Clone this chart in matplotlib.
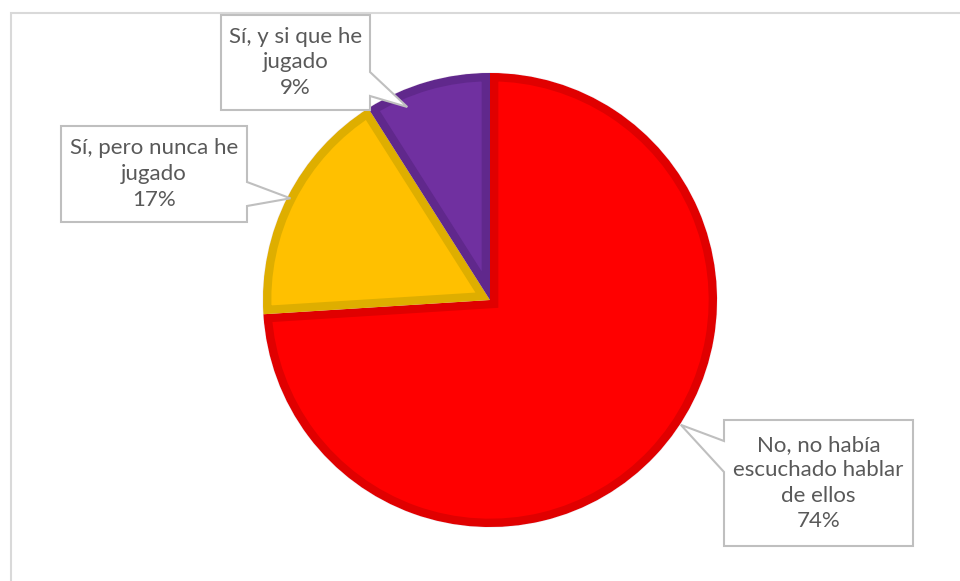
import numpy as np
import matplotlib.pyplot as plt
from matplotlib.patches import Wedge, PathPatch
from matplotlib.path import Path

# Respuestas a la encuesta
categorias = ["No, no había\nescuchado hablar\nde ellos",
              "Sí, pero nunca he\njugado",
              "Sí, y si que he\njugado"]
porcentajes = [74, 17, 9]
colores = ["#FF0000", "#FFC000", "#7030A0"]
bordes = ["#E00000", "#DEAE00", "#60288C"]

W, H = 960, 581
fig = plt.figure(figsize=(W / 100, H / 100), dpi=100)
ax = fig.add_axes([0, 0, 1, 1])
ax.set_xlim(0, W)
ax.set_ylim(0, H)
ax.set_aspect("equal")
ax.axis("off")

# marco del gráfico (se corta por la derecha y por abajo)
ax.plot([11, 11, W], [0, H - 13, H - 13], color="#D9D9D9", lw=1.5,
        solid_joinstyle="miter")

cx, cy, r = 490, 281, 227
wedges, _ = ax.pie(porcentajes, colors=colores, startangle=90,
                   counterclock=False, center=(cx, cy), radius=r,
                   frame=True, wedgeprops=dict(linewidth=0.8, edgecolor="#f0e8f0"))
ax.set_xlim(0, W)
ax.set_ylim(0, H)
ax.axis("off")

# borde interior más oscuro de cada porción
for w, c in zip(wedges, bordes):
    b = Wedge(w.center, w.r, w.theta1, w.theta2, facecolor="none",
              edgecolor=c, linewidth=12, joinstyle="miter")
    ax.add_patch(b)
    b.set_clip_path(w)


def globo(x0, y0, x1, y1, lado, t0, t1, punta):
    # rectángulo con cola triangular en el lado indicado (coordenadas en píxeles desde arriba)
    Y = lambda v: H - v
    if lado == "right":
        pts = [(x0, y0), (x1, y0), (x1, t0), punta, (x1, t1), (x1, y1), (x0, y1)]
    else:
        pts = [(x0, y0), (x1, y0), (x1, y1), (x0, y1), (x0, t1), punta, (x0, t0)]
    pts = [(px, Y(py)) for px, py in pts] + [(x0, Y(y0))]
    codes = [Path.MOVETO] + [Path.LINETO] * (len(pts) - 2) + [Path.CLOSEPOLY]
    ax.add_patch(PathPatch(Path(pts, codes), facecolor="white",
                           edgecolor="#BFBFBF", lw=1.5, zorder=5))


def punta(i, rad):
    ang = 90 - 360 * (sum(porcentajes[:i]) + porcentajes[i] / 2) / 100
    if i == 0:
        ang += 10
    if i == 2:
        ang += 7
    a = np.radians(ang)
    return (cx + rad * np.cos(a), H - (cy + rad * np.sin(a)))


cajas = [
    (724, 420, 913, 546, "left", 441, 472, punta(0, 228)),
    (61, 126, 247, 222, "right", 182, 206, punta(1, 224)),
    (221, 15, 370, 110, "right", 72, 96, punta(2, 210)),
]

for (x0, y0, x1, y1, lado, t0, t1, p), cat, pct in zip(cajas, categorias, porcentajes):
    globo(x0, y0, x1, y1, lado, t0, t1, p)
    ax.text((x0 + x1) / 2, H - (y0 + y1) / 2, f"{cat}\n{pct}%", ha="center",
            va="center", color="#595959", fontsize=16, family="Lato",
            linespacing=1.35, zorder=6)

fig.savefig("out.png", dpi=100, facecolor="white")
